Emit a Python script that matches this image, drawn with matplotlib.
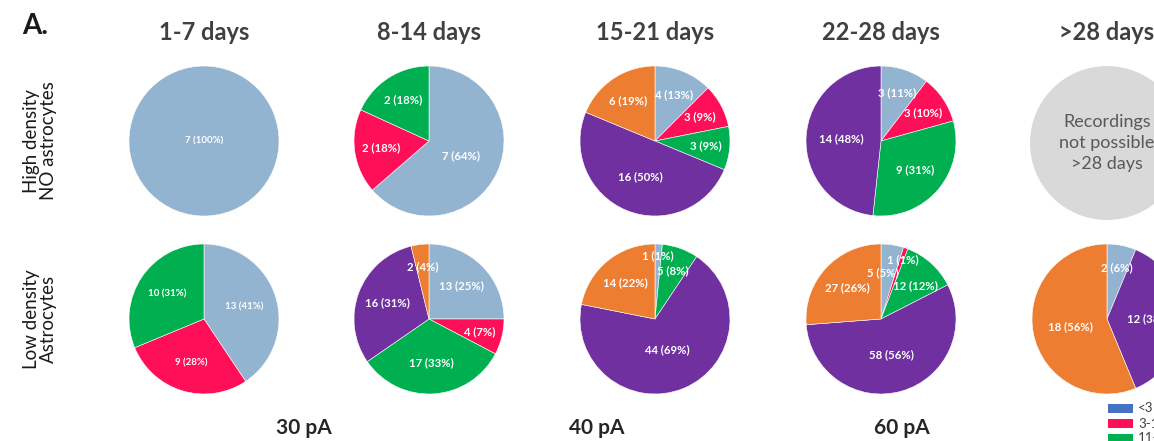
import numpy as np
import matplotlib
matplotlib.use("Agg")
import matplotlib.pyplot as plt
from matplotlib.patches import Circle, Rectangle

plt.rcParams['font.family'] = ['Lato', 'DejaVu Sans']

# categories (legend order = slice order, clockwise from 12 o'clock)
categories = ['<3', '3-10', '11-20', '21-30', '>30']
slice_colors = ['#93B4D1', '#FF0F57', '#00B050', '#7030A0', '#ED7D31']
legend_colors = ['#4472C4', '#FF0F57', '#00B050', '#7030A0', '#ED7D31']

periods = ['1-7 days', '8-14 days', '15-21 days', '22-28 days', '>28 days']
rows = ['High density\nNO astrocytes', 'Low density\nAstrocytes']

# counts per category, one list per period (None = no recordings)
high_counts = [[7, 0, 0, 0, 0],
               [7, 2, 2, 0, 0],
               [4, 3, 3, 16, 6],
               [3, 3, 9, 14, 0],
               None]
high_pcts = [[100, 0, 0, 0, 0],
             [64, 18, 18, 0, 0],
             [13, 9, 9, 50, 19],
             [11, 10, 31, 48, 0],
             None]
low_counts = [[13, 9, 10, 0, 0],
              [13, 4, 17, 16, 2],
              [1, 0, 5, 44, 14],
              [5, 1, 12, 58, 27],
              [2, 0, 0, 12, 18]]
low_pcts = [[41, 28, 31, 0, 0],
            [25, 7, 33, 31, 4],
            [1, 0, 8, 69, 22],
            [5, 1, 12, 56, 26],
            [6, 0, 0, 38, 56]]

currents = ['30 pA', '40 pA', '60 pA']

W, H = 1154, 441
fig = plt.figure(figsize=(W / 100, H / 100), dpi=100)
ax = fig.add_axes([0, 0, 1, 1])
ax.set_xlim(0, W)
ax.set_ylim(0, H)

col_x = [204, 429, 655, 881, 1107]
row_y = [H - 141, H - 319]
R = 75
renderer = fig.canvas.get_renderer()


def overlap(a, b, pad=1):
    return not (a.x1 + pad < b.x0 or b.x1 + pad < a.x0 or
                a.y1 + pad < b.y0 or b.y1 + pad < a.y0)


def draw_pie(cx, cy, counts, pcts, small):
    vals = [c for c in counts if c > 0]
    cols = [slice_colors[i] for i, c in enumerate(counts) if c > 0]
    labs = ['%d (%d%%)' % (c, p) for c, p in zip(counts, pcts) if c > 0]
    wedges, _ = ax.pie(vals, colors=cols, startangle=90, counterclock=False,
                       center=(cx, cy), radius=R, frame=True,
                       wedgeprops=dict(edgecolor='white', linewidth=0.4))
    ax.set_xlim(0, W)
    ax.set_ylim(0, H)
    total = float(sum(vals))
    fracs = [v / total for v in vals]
    ang = [(w.theta1 + w.theta2) / 2 for w in wedges]
    lims = [(min(w.theta1, w.theta2), max(w.theta1, w.theta2)) for w in wedges]
    dist = []
    for f in fracs:
        if f >= 0.999:
            dist.append(0.0)
        elif f < 0.03:
            dist.append(0.85)
        else:
            dist.append(0.72 - 0.4 * f)
    texts = []
    for i, lab in enumerate(labs):
        a = np.deg2rad(ang[i])
        texts.append(ax.text(cx + dist[i] * R * np.cos(a), cy + dist[i] * R * np.sin(a),
                             lab, ha='center', va='center', color='white',
                             fontweight='bold', fontsize=7 if small else 8.2))
    # nudge labels apart where they collide
    for _ in range(40):
        moved = False
        boxes = [t.get_window_extent(renderer) for t in texts]
        for i in range(len(texts)):
            for j in range(i + 1, len(texts)):
                if not overlap(boxes[i], boxes[j]):
                    continue
                moved = True
                big, sml = (i, j) if fracs[i] >= fracs[j] else (j, i)
                dist[big] = max(0.45, dist[big] - 0.02)
                for k, other in ((big, sml), (sml, big)):
                    step = 2.0 if ang[k] > ang[other] else -2.0
                    lo, hi = lims[k]
                    m = 0.15 * (hi - lo)
                    ang[k] = min(hi - m, max(lo + m, ang[k] + step))
        for i, t in enumerate(texts):
            a = np.deg2rad(ang[i])
            t.set_position((cx + dist[i] * R * np.cos(a), cy + dist[i] * R * np.sin(a)))
        if not moved:
            break


for j in range(5):
    if high_counts[j] is None:
        ax.add_patch(Circle((col_x[j], row_y[0] - 2), 77, color='#D9D9D9', lw=0))
        ax.text(col_x[j], row_y[0] - 2, 'Recordings\nnot possible\n>28 days',
                ha='center', va='center', color='#595959', fontsize=13,
                linespacing=1.4)
    else:
        draw_pie(col_x[j], row_y[0], high_counts[j], high_pcts[j], j == 0)
    draw_pie(col_x[j], row_y[1], low_counts[j], low_pcts[j], j == 0)
    ax.text(col_x[j], H - 33, periods[j], ha='center', va='center',
            color='#404040', fontsize=17, fontweight='bold')

ax.text(22, H - 26, 'A.', ha='left', va='center', color='#1a1a1a',
        fontsize=20, fontweight='bold')

for i, lab in enumerate(rows):
    ax.text(40, row_y[i], lab, rotation=90, ha='center', va='center',
            color='#1a1a1a', fontsize=13.5, linespacing=1.05)

for x, lab in zip([304, 597, 902], currents):
    ax.text(x, H - 428, lab, ha='center', va='center', color='#262626',
            fontsize=15, fontweight='bold')

# legend (partly cut off at the right/bottom edge)
for k, (lab, c) in enumerate(zip(categories, legend_colors)):
    y = H - 404 - 15 * k
    ax.add_patch(Rectangle((1108, y - 9), 25, 9, color=c, lw=0))
    ax.text(1138, y - 4.5, lab, ha='left', va='center', color='#404040',
            fontsize=9.5)

ax.set_xlim(0, W)
ax.set_ylim(0, H)
ax.set_aspect('auto')
ax.axis('off')

fig.savefig('out.png', dpi=100, facecolor='white')
